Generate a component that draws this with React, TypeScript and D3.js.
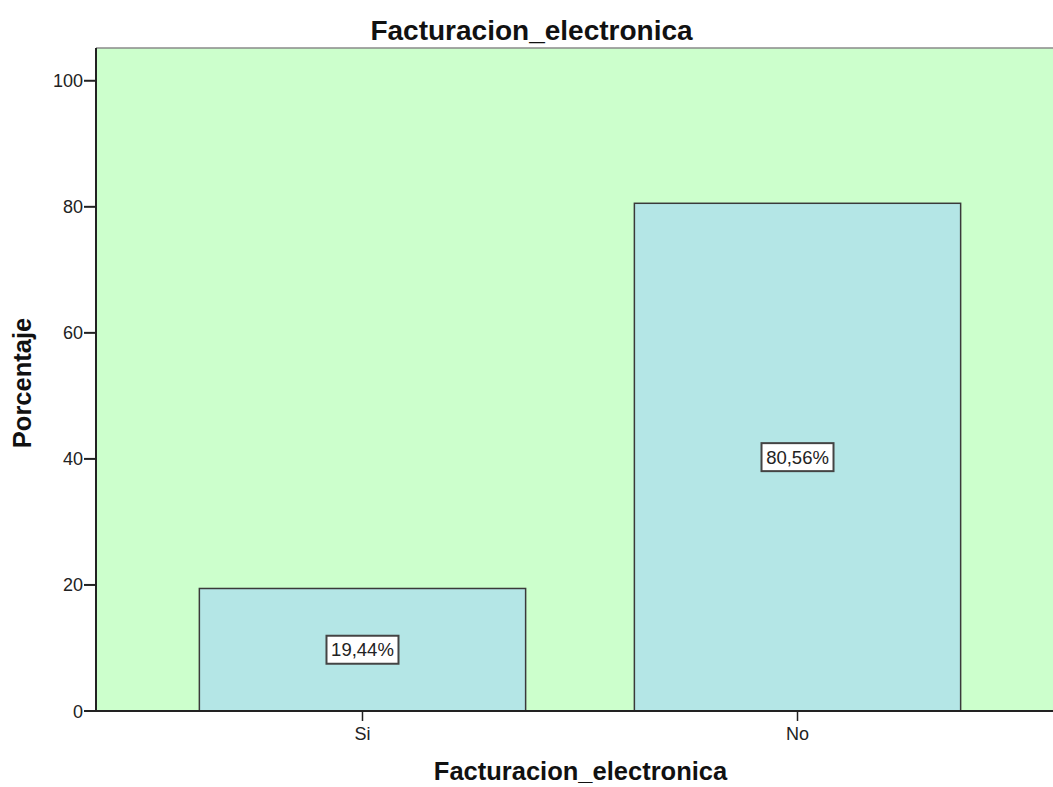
import React from "react";
import * as d3 from "d3";

const categories = ["Si", "No"];
const percentages = [19.44, 80.56];
const valueLabels = ["19,44%", "80,56%"];
const yTicks = [0, 20, 40, 60, 80, 100];
const chartTitle = "Facturacion_electronica";
const xTitle = "Facturacion_electronica";
const yTitle = "Porcentaje";

const W = 1053;
const H = 787;
const plot = { left: 96, right: 1064, top: 48, bottom: 711 };
const FONT = "'Liberation Sans', Arial, sans-serif";

export default function App() {
  const x = d3
    .scaleBand<string>()
    .domain(categories)
    .range([plot.left, plot.right])
    .paddingInner(0.25)
    .paddingOuter(0.2376);
  const y = d3.scaleLinear().domain([0, 105.2]).range([plot.bottom, plot.top]);

  return (
    <svg
      width={W}
      height={H}
      style={{ position: "absolute", left: 0, top: 0, background: "#fff" }}
      fontFamily={FONT}
    >
      {/* plot background */}
      <rect
        x={plot.left}
        y={plot.top}
        width={plot.right - plot.left}
        height={plot.bottom - plot.top}
        fill="#ccffcc"
      />
      <line x1={plot.left} x2={W} y1={plot.top} y2={plot.top} stroke="#8a8a8a" strokeWidth={1.5} />

      {/* bars */}
      {categories.map((c, i) => (
        <rect
          key={c}
          x={x(c)!}
          y={y(percentages[i])}
          width={x.bandwidth()}
          height={y(0) - y(percentages[i])}
          fill="#b4e6e6"
          stroke="#3a3a3a"
          strokeWidth={1.5}
        />
      ))}

      {/* value labels */}
      {categories.map((c, i) => {
        const cx = x(c)! + x.bandwidth() / 2;
        const cy = y(percentages[i] / 2);
        return (
          <g key={c + "lab"}>
            <rect x={cx - 36} y={cy - 14} width={72} height={28} fill="#fff" stroke="#444" strokeWidth={2} />
            <text x={cx} y={cy + 6.5} textAnchor="middle" fontSize={18.5} fill="#222">
              {valueLabels[i]}
            </text>
          </g>
        );
      })}

      {/* y axis */}
      <line x1={plot.left} x2={plot.left} y1={plot.top} y2={plot.bottom} stroke="#222" strokeWidth={2} />
      {yTicks.map((t) => (
        <g key={t}>
          <line x1={plot.left - 12} x2={plot.left} y1={y(t)} y2={y(t)} stroke="#222" strokeWidth={2} />
          <text x={plot.left - 13} y={y(t) + 6.5} textAnchor="end" fontSize={18} fill="#222">
            {t}
          </text>
        </g>
      ))}

      {/* x axis */}
      <line x1={plot.left} x2={W} y1={plot.bottom} y2={plot.bottom} stroke="#222" strokeWidth={2} />
      {categories.map((c) => {
        const cx = x(c)! + x.bandwidth() / 2;
        return (
          <g key={c + "tick"}>
            <line x1={cx} x2={cx} y1={plot.bottom} y2={plot.bottom + 10} stroke="#222" strokeWidth={1.5} />
            <text x={cx} y={740} textAnchor="middle" fontSize={18} fill="#222">
              {c}
            </text>
          </g>
        );
      })}

      {/* titles */}
      <text x={531.5} y={39.5} textAnchor="middle" fontSize={28} fontWeight="bold" fill="#111">
        {chartTitle}
      </text>
      <text x={580.5} y={780} textAnchor="middle" fontSize={25.5} fontWeight="bold" fill="#111">
        {xTitle}
      </text>
      <text
        transform={`translate(31,383) rotate(-90)`}
        textAnchor="middle"
        fontSize={25.5}
        fontWeight="bold"
        fill="#111"
      >
        {yTitle}
      </text>
    </svg>
  );
}
